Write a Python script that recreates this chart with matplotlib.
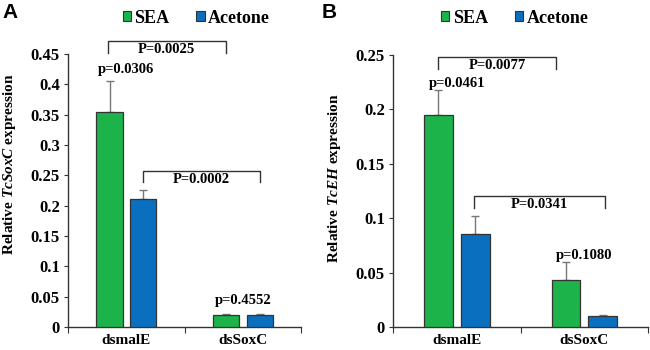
import numpy as np
import matplotlib
matplotlib.use("Agg")
import matplotlib.pyplot as plt
from matplotlib.patches import Patch

plt.rcParams["font.family"] = "Liberation Serif"
plt.rcParams["font.weight"] = "bold"
plt.rcParams["mathtext.fontset"] = "custom"
plt.rcParams["mathtext.rm"] = "Liberation Serif:bold"
plt.rcParams["mathtext.it"] = "Liberation Serif:italic:bold"

# Data
groups = ["dsmalE", "dsSoxC"]
series = ["SEA", "Acetone"]

soxc_sea = [0.355, 0.020]
soxc_sea_err = [0.050, 0.002]
soxc_ace = [0.210, 0.020]
soxc_ace_err = [0.016, 0.002]
soxc_yticks = [0, 0.05, 0.1, 0.15, 0.2, 0.25, 0.3, 0.35, 0.4, 0.45]
soxc_ptext = ["p=0.0306", "p=0.4552"]
soxc_ptext_y = [0.424, 0.043]
soxc_brackets = ["P=0.0025", "P=0.0002"]

eh_sea = [0.195, 0.043]
eh_sea_err = [0.023, 0.017]
eh_ace = [0.085, 0.010]
eh_ace_err = [0.017, 0.0005]
eh_yticks = [0, 0.05, 0.1, 0.15, 0.2, 0.25]
eh_ptext = ["p=0.0461", "p=0.1080"]
eh_ptext_y = [0.224, 0.066]
eh_brackets = ["P=0.0077", "P=0.0341"]

GREEN = "#1db34b"
BLUE = "#0b6fc0"


def fmt(v):
    if v == 0:
        return "0"
    return ("%g" % v)


def draw_panel(ax, sea, sea_err, ace, ace_err, yticks):
    x = np.arange(len(groups))
    w = 0.225
    off = 0.145
    zeros = np.zeros(len(groups))
    ax.bar(x - off, sea, w, color=GREEN, edgecolor="#333333", linewidth=0.9, zorder=3)
    ax.bar(x + off, ace, w, color=BLUE, edgecolor="#333333", linewidth=0.9, zorder=3)
    ax.errorbar(x - off, sea, yerr=[zeros, sea_err], fmt="none", ecolor="#777777",
                elinewidth=1.0, capsize=3, capthick=1.0, zorder=2)
    ax.errorbar(x + off, ace, yerr=[zeros, ace_err], fmt="none", ecolor="#777777",
                elinewidth=1.0, capsize=3, capthick=1.0, zorder=2)
    ax.set_xlim(-0.5, 1.5)
    ax.set_ylim(0, yticks[-1])
    ax.set_yticks(yticks)
    ax.set_yticklabels([fmt(v) for v in yticks], fontsize=12, fontweight="bold")
    ax.set_xticks([-0.5, 0.5, 1.5])
    ax.set_xticklabels([])
    ax.set_xticks(x, minor=True)
    ax.set_xticklabels(groups, minor=True, fontsize=11, fontweight="bold")
    ax.tick_params(axis="x", which="minor", length=0, pad=5)
    ax.tick_params(axis="x", which="major", length=4, direction="out", color="#333333")
    ax.tick_params(axis="y", length=3, direction="out", color="#333333", pad=3)
    for s in ["top", "right"]:
        ax.spines[s].set_visible(False)
    for s in ["left", "bottom"]:
        ax.spines[s].set_color("#333333")
        ax.spines[s].set_linewidth(1.0)


def bracket(ax, x0, x1, ytop, ybot, label, ty):
    ax.plot([x0, x0, x1, x1], [ybot, ytop, ytop, ybot], color="#333333",
            linewidth=1.0, clip_on=False, zorder=4)
    ax.text((x0 + x1) / 2, ty, label, ha="center", va="center", fontsize=10.5,
            fontweight="bold", clip_on=False)


fig = plt.figure(figsize=(6.5, 3.5), dpi=100)
axA = fig.add_axes([0.105, 0.066, 0.358, 0.780])
axB = fig.add_axes([0.605, 0.066, 0.392, 0.777])

draw_panel(axA, soxc_sea, soxc_sea_err, soxc_ace, soxc_ace_err, soxc_yticks)
draw_panel(axB, eh_sea, eh_sea_err, eh_ace, eh_ace_err, eh_yticks)

# p-values within groups
for i in range(len(groups)):
    axA.text(i, soxc_ptext_y[i], soxc_ptext[i], ha="center", va="center", fontsize=10.5, fontweight="bold")
    axB.text(i, eh_ptext_y[i], eh_ptext[i], ha="center", va="center", fontsize=10.5, fontweight="bold")

bracket(axA, -0.16, 0.855, 0.471, 0.452, soxc_brackets[0], 0.458)
bracket(axA, 0.14, 1.15, 0.257, 0.239, soxc_brackets[1], 0.243)
bracket(axB, -0.15, 0.78, 0.248, 0.237, eh_brackets[0], 0.2405)
bracket(axB, 0.13, 1.16, 0.120, 0.109, eh_brackets[1], 0.1125)

fig.text(0.014, 0.53, r"Relative $\mathit{TcSoxC}$ expression", rotation=90,
         ha="center", va="center", fontsize=11, fontweight="bold")
fig.text(0.514, 0.49, r"Relative $\mathit{TcEH}$ expression", rotation=90,
         ha="center", va="center", fontsize=11, fontweight="bold")

handles = [Patch(facecolor=GREEN, edgecolor="#333333", linewidth=0.8),
           Patch(facecolor=BLUE, edgecolor="#333333", linewidth=0.8)]
for cx in [0.302, 0.792]:
    fig.legend(handles, series, loc="center", bbox_to_anchor=(cx, 0.948), ncol=2,
               frameon=False, handlelength=0.45, handleheight=0.45, handletextpad=0.2,
               columnspacing=1.5, prop={"family": "Liberation Serif", "weight": "bold", "size": 13})

fig.text(0.004, 0.965, "A", fontsize=15, fontweight="bold", family="Liberation Sans", va="center", ha="left")
fig.text(0.495, 0.965, "B", fontsize=15, fontweight="bold", family="Liberation Sans", va="center", ha="left")

fig.savefig("out.png", dpi=100)
